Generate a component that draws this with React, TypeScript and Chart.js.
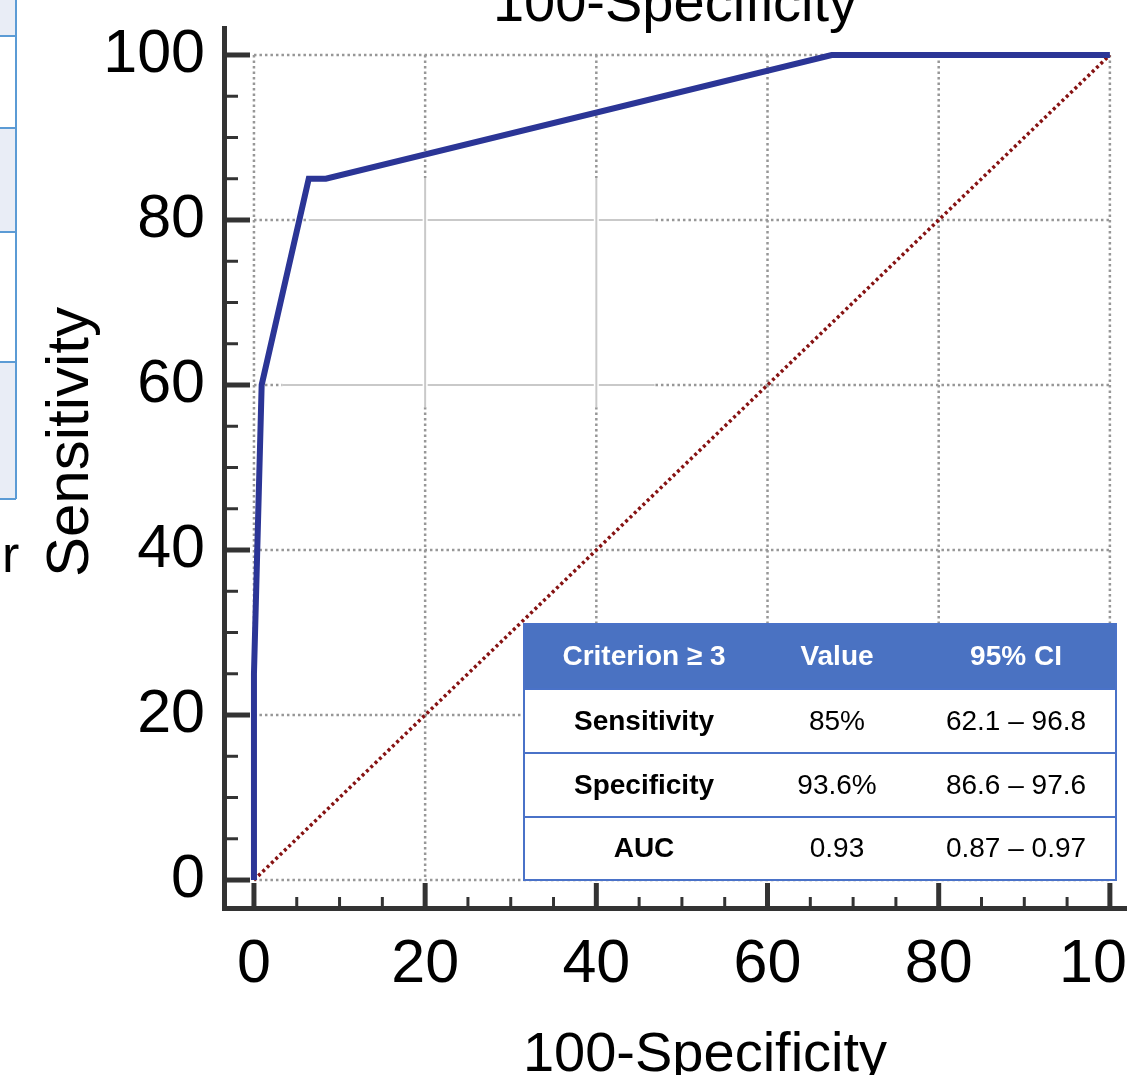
import React, { useEffect, useRef } from 'react';
import { Chart, registerables } from 'chart.js';

Chart.register(...registerables);

// ---- data ----
const rocFpr = [0, 0, 0.9, 6.4, 8.4, 67.5, 100];
const rocSens = [0, 25, 60, 85, 85, 100, 100];
const refFpr = [0, 100];
const refSens = [0, 100];

const tickValues = [0, 5, 10, 15, 20, 25, 30, 35, 40, 45, 50, 55, 60, 65, 70, 75, 80, 85, 90, 95, 100];
const majorTickValues = [0, 20, 40, 60, 80, 100];

const xTitle = '100-Specificity';
const yTitle = 'Sensitivity';

const tableHeader = ['Criterion \u2265 3', 'Value', '95% CI'];
const tableRowLabels = ['Sensitivity', 'Specificity', 'AUC'];
const tableValues = ['85%', '93.6%', '0.93'];
const tableCI = ['62.1 \u2013 96.8', '86.6 \u2013 97.6', '0.87 \u2013 0.97'];

const FONT = '"Liberation Sans", Arial, Helvetica, sans-serif';

const W = 1127;
const H = 1075;

const decorPlugin = {
  id: 'decor',
  beforeDatasetsDraw(chart: any) {
    const { ctx } = chart;
    const xs = chart.scales.x;
    const ys = chart.scales.y;
    const X = (v: number) => xs.getPixelForValue(v);
    const Y = (v: number) => ys.getPixelForValue(v);
    ctx.save();
    // dotted grid
    ctx.strokeStyle = '#979797';
    ctx.lineWidth = 2.5;
    ctx.setLineDash([2.5, 3]);
    for (const v of majorTickValues) {
      ctx.beginPath();
      ctx.moveTo(X(v), Y(100));
      ctx.lineTo(X(v), Y(0));
      ctx.stroke();
      ctx.beginPath();
      ctx.moveTo(X(0), Y(v));
      ctx.lineTo(X(100), Y(v));
      ctx.stroke();
    }
    // patch of solid grid lines
    ctx.setLineDash([]);
    const solid = (x1: number, y1: number, x2: number, y2: number) => {
      ctx.strokeStyle = '#ffffff';
      ctx.lineWidth = 5;
      ctx.beginPath();
      ctx.moveTo(x1, y1);
      ctx.lineTo(x2, y2);
      ctx.stroke();
      ctx.strokeStyle = '#c9c9c9';
      ctx.lineWidth = 2;
      ctx.beginPath();
      ctx.moveTo(x1, y1);
      ctx.lineTo(x2, y2);
      ctx.stroke();
    };
    solid(X(6.4), Y(80), X(46.8), Y(80));
    solid(X(3.3), Y(60), X(46.8), Y(60));
    solid(X(20), Y(85.1), X(20), Y(57.3));
    solid(X(40), Y(85.1), X(40), Y(57.3));

    // inward tick marks
    ctx.strokeStyle = '#333333';
    const left = chart.chartArea.left;
    const bottom = chart.chartArea.bottom;
    for (const v of tickValues) {
      const major = majorTickValues.includes(v);
      ctx.lineWidth = major ? 5 : 3;
      ctx.beginPath();
      ctx.moveTo(left, Y(v));
      ctx.lineTo(left + (major ? 26 : 14), Y(v));
      ctx.stroke();
      ctx.beginPath();
      ctx.moveTo(X(v), bottom);
      ctx.lineTo(X(v), bottom - (major ? 25 : 11));
      ctx.stroke();
    }
    ctx.restore();
  },
  afterDraw(chart: any) {
    const { ctx } = chart;
    ctx.save();
    ctx.setLineDash([]);

    // left table fragment
    const fragLines = [36, 128, 232, 362, 499];
    ctx.fillStyle = '#e9edf6';
    ctx.fillRect(0, 0, 16, fragLines[0]);
    ctx.fillRect(0, fragLines[1], 16, fragLines[2] - fragLines[1]);
    ctx.fillRect(0, fragLines[3], 16, fragLines[4] - fragLines[3]);
    ctx.strokeStyle = '#5b9bd5';
    ctx.lineWidth = 2;
    ctx.beginPath();
    ctx.moveTo(16, 0);
    ctx.lineTo(16, fragLines[4]);
    for (const y of fragLines) {
      ctx.moveTo(0, y);
      ctx.lineTo(16, y);
    }
    ctx.stroke();
    ctx.fillStyle = '#000';
    ctx.font = `52px ${FONT}`;
    ctx.textAlign = 'left';
    ctx.textBaseline = 'alphabetic';
    ctx.fillText('r', 2, 572);

    // titles
    ctx.font = `56px ${FONT}`;
    ctx.textAlign = 'center';
    ctx.fillText(xTitle, 705, 1071);
    ctx.fillText(xTitle, 675, 21);
    ctx.save();
    ctx.translate(88, 442);
    ctx.rotate(-Math.PI / 2);
    ctx.font = `60px ${FONT}`;
    ctx.fillText(yTitle, 0, 0);
    ctx.restore();

    // inset table
    const tx0 = 524;
    const tx1 = 1116;
    const rowsY = [624, 689, 753, 817, 880];
    const colX = [644, 837, 1016];
    ctx.fillStyle = '#ffffff';
    ctx.fillRect(tx0, rowsY[0], tx1 - tx0, rowsY[4] - rowsY[0]);
    ctx.fillStyle = '#4a72c2';
    ctx.fillRect(tx0, rowsY[0], tx1 - tx0, rowsY[1] - rowsY[0]);
    ctx.strokeStyle = '#4a72c8';
    ctx.lineWidth = 2;
    ctx.strokeRect(tx0, rowsY[0], tx1 - tx0, rowsY[4] - rowsY[0]);
    ctx.beginPath();
    for (let i = 1; i < 4; i++) {
      ctx.moveTo(tx0, rowsY[i]);
      ctx.lineTo(tx1, rowsY[i]);
    }
    ctx.stroke();
    ctx.textAlign = 'center';
    ctx.textBaseline = 'middle';
    ctx.fillStyle = '#ffffff';
    ctx.font = `bold 28px ${FONT}`;
    tableHeader.forEach((t, i) => ctx.fillText(t, colX[i], (rowsY[0] + rowsY[1]) / 2 + 1));
    for (let r = 0; r < 3; r++) {
      const cy = (rowsY[r + 1] + rowsY[r + 2]) / 2 + 1;
      ctx.fillStyle = '#000';
      ctx.font = `bold 28px ${FONT}`;
      ctx.fillText(tableRowLabels[r], colX[0], cy);
      ctx.font = `28px ${FONT}`;
      ctx.fillText(tableValues[r], colX[1], cy);
      ctx.fillText(tableCI[r], colX[2], cy);
    }
    ctx.restore();
  },
};

export default function App() {
  const ref = useRef<HTMLCanvasElement | null>(null);
  useEffect(() => {
    document.body.style.margin = '0';
    const canvas = ref.current;
    if (!canvas) return;
    const chart = new Chart(canvas, {
      type: 'scatter',
      data: {
        datasets: [
          {
            label: 'ROC',
            data: rocFpr.map((x, i) => ({ x, y: rocSens[i] })),
            showLine: true,
            borderColor: '#2b3596',
            borderWidth: 6,
            borderJoinStyle: 'miter',
            pointRadius: 0,
            fill: false,
            tension: 0,
          },
          {
            label: 'Reference',
            data: refFpr.map((x, i) => ({ x, y: refSens[i] })),
            showLine: true,
            borderColor: '#861212',
            borderWidth: 3.5,
            borderDash: [3, 3],
            pointRadius: 0,
            fill: false,
          },
        ],
      },
      options: {
        animation: false,
        responsive: false,
        maintainAspectRatio: false,
        events: [],
        layout: { padding: { top: 28, left: 0, right: 0, bottom: 0 } },
        plugins: {
          legend: { display: false },
          tooltip: { enabled: false },
          title: { display: false },
        },
        scales: {
          x: {
            type: 'linear',
            min: -3.5,
            max: 102,
            grid: { display: false, drawTicks: false },
            border: { display: true, color: '#333333', width: 5 },
            afterBuildTicks: (s: any) => {
              s.ticks = tickValues.map((v) => ({ value: v }));
            },
            afterFit: (s: any) => {
              s.height = 167;
              s.paddingLeft = 0;
              s.paddingRight = 0;
            },
            ticks: {
              autoSkip: false,
              maxRotation: 0,
              minRotation: 0,
              padding: 21,
              color: '#000',
              font: { family: FONT, size: 61 },
              callback: (v: any) => (majorTickValues.includes(Number(v)) ? String(v) : ''),
            },
          },
          y: {
            type: 'linear',
            min: -3.39,
            max: 103.27,
            grid: { display: false, drawTicks: false },
            border: { display: true, color: '#333333', width: 5 },
            afterBuildTicks: (s: any) => {
              s.ticks = tickValues.map((v) => ({ value: v }));
            },
            afterFit: (s: any) => {
              s.width = 224;
              s.paddingTop = 0;
              s.paddingBottom = 0;
            },
            ticks: {
              autoSkip: false,
              padding: 19,
              color: '#000',
              font: { family: FONT, size: 61 },
              callback: (v: any) => (majorTickValues.includes(Number(v)) ? String(v) : ''),
            },
          },
        },
      },
      plugins: [decorPlugin],
    } as any);
    return () => chart.destroy();
  }, []);
  return (
    <div style={{ width: W, height: H, background: '#fff' }}>
      <canvas ref={ref} width={W} height={H} style={{ display: 'block', width: W, height: H }} />
    </div>
  );
}
